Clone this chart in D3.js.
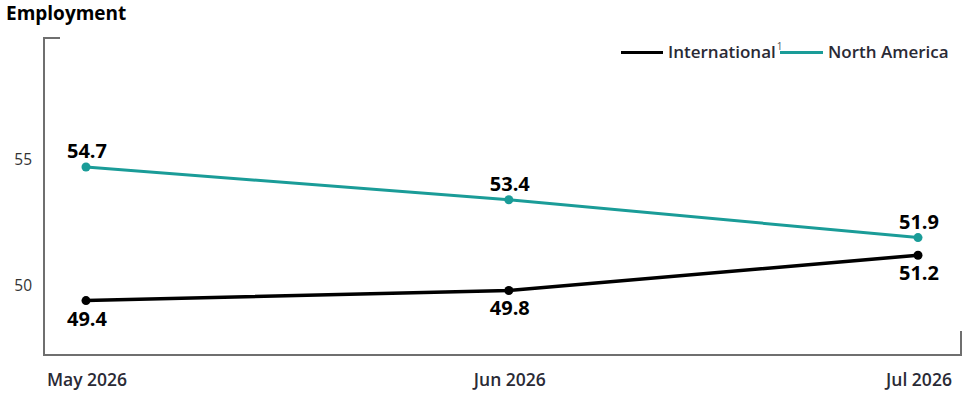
<!DOCTYPE html>
<html>
<head>
<meta charset="utf-8">
<script src="https://cdn.jsdelivr.net/npm/d3@7"></script>
<style>
  body { margin: 0; background: #fff; }
  svg text { font-family: "Open Sans", Lato, sans-serif; }
</style>
</head>
<body>
<div id="chart"></div>
<script>
// chart data
let months = ["2026-05-01", "2026-06-01", "2026-07-01"];
let monthLabels = ["May 2026", "Jun 2026", "Jul 2026"];
let international = [49.4, 49.8, 51.2];
let northAmerica = [54.7, 53.4, 51.9];
let yTicks = [50, 55];
let seriesNames = ["International", "North America"];

let WIDTH = 977, HEIGHT = 403;
let parse = d3.utcParse("%Y-%m-%d");
let dates = months.map(parse);

let svg = d3.select("#chart").append("svg")
    .attr("width", WIDTH)
    .attr("height", HEIGHT);

// plot frame limits; the points sit 42px inside the frame
let PAD = {left: 44, right: 961, top: 38, bottom: 355, inner: 42};

let x = d3.scaleUtc()
    .domain(d3.extent(dates))
    .range([PAD.left + PAD.inner, PAD.right - PAD.inner - 1]);

let y = d3.scaleLinear()
    .domain([47.24, 59.82])
    .range([PAD.bottom, PAD.top]);

svg.append("text")
  .attr("x", 6).attr("y", 20)
  .attr("font-size", 19).attr("font-weight", 700)
  .attr("fill", "#000")
  .text("Employment");

// axis frame: left + bottom with small end caps
svg.append("path")
  .attr("d", "M" + (PAD.left + 16) + "," + PAD.top + "H" + PAD.left +
        "V" + PAD.bottom + "H" + PAD.right + "V" + (PAD.bottom - 24))
  .attr("fill", "none")
  .attr("stroke", "#6f6f6f")
  .attr("stroke-width", 2);

svg.append("g")
  .selectAll("text")
  .data(yTicks)
  .enter().append("text")
  .attr("x", 32)
  .attr("y", d => y(d) + 6)
  .attr("text-anchor", "end")
  .attr("font-size", 15.5)
  .attr("fill", "#333")
  .text(d => d);

svg.append("g")
  .selectAll("text")
  .data(dates)
  .enter().append("text")
  .attr("x", d => x(d) + 1)
  .attr("y", 386)
  .attr("text-anchor", "middle")
  .attr("font-size", 17.5)
  .attr("font-weight", 600)
  .attr("fill", "#2a2a35")
  .text((d, i) => monthLabels[i]);

let series = [
  {name: seriesNames[0], values: international, color: "#000", width: 3.5, above: false},
  {name: seriesNames[1], values: northAmerica, color: "#1a9c98", width: 3, above: true}
];

let line = d3.line()
    .x((d, i) => x(dates[i]))
    .y(d => y(d));

series.forEach(function(s){
  let g = svg.append("g");
  g.append("path")
    .attr("d", line(s.values))
    .attr("fill", "none")
    .attr("stroke", s.color)
    .attr("stroke-width", s.width);
  g.selectAll("circle")
    .data(s.values)
    .enter().append("circle")
    .attr("cx", (d, i) => x(dates[i]))
    .attr("cy", d => y(d))
    .attr("r", 4.5)
    .attr("fill", s.color);
  g.selectAll("text")
    .data(s.values)
    .enter().append("text")
    .attr("x", (d, i) => x(dates[i]) + 1)
    .attr("y", d => y(d) + (s.above ? -9 : 25))
    .attr("text-anchor", "middle")
    .attr("font-size", 20)
    .attr("font-weight", 700)
    .attr("fill", "#000")
    .text(d => d.toFixed(1));
});

// legend
let legend = svg.append("g");
legend.append("line")
  .attr("x1", 621).attr("x2", 663).attr("y1", 52.5).attr("y2", 52.5)
  .attr("stroke", "#000").attr("stroke-width", 3);
let lt = legend.append("text")
  .attr("x", 668).attr("y", 58)
  .attr("font-size", 17).attr("font-weight", 600)
  .attr("fill", "#2a2a35");
lt.append("tspan").text(seriesNames[0]);
lt.append("tspan").attr("font-size", 10).attr("font-weight", 400)
  .attr("dx", 1).attr("dy", -8).attr("fill", "#555").text("1");
legend.append("line")
  .attr("x1", 780).attr("x2", 823).attr("y1", 52.5).attr("y2", 52.5)
  .attr("stroke", "#1a9c98").attr("stroke-width", 3);
legend.append("text")
  .attr("x", 828).attr("y", 58)
  .attr("font-size", 17).attr("font-weight", 600)
  .attr("fill", "#2a2a35")
  .text(seriesNames[1]);
</script>
</body>
</html>
